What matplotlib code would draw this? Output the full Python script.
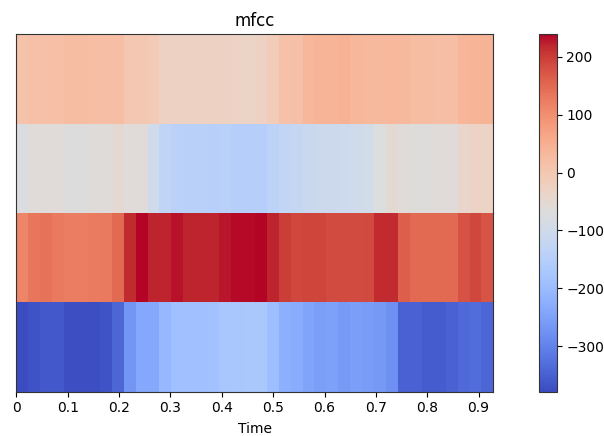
import numpy as np
import matplotlib
matplotlib.use("Agg")
import matplotlib.pyplot as plt

# MFCC values, 4 coefficients x 40 frames (row 0 = bottom)
mfcc_0 = [-379, -367, -360, -360, -376, -376, -375, -367, -342, -268,
          -237, -237, -206, -190, -190, -190, -188, -175, -172, -170,
          -169, -194, -225, -231, -246, -255, -252, -263, -255, -260,
          -265, -280, -348, -349, -357, -355, -348, -336, -333, -342]
mfcc_1 = [115, 135, 138, 130, 125, 125, 127, 130, 150, 215,
          239, 222, 220, 230, 220, 220, 222, 228, 235, 236,
          237, 220, 199, 190, 193, 193, 185, 185, 185, 188,
          215, 215, 163, 150, 150, 152, 152, 178, 190, 175]
mfcc_2 = [-75, -65, -62, -62, -68, -68, -65, -65, -52, -62,
          -62, -100, -132, -141, -145, -145, -148, -147, -150, -150,
          -150, -140, -127, -122, -112, -108, -108, -105, -100, -96,
          -72, -55, -62, -66, -66, -62, -62, -42, -30, -33]
mfcc_3 = [12, 15, 16, 18, 22, 22, 21, 20, 20, 2,
          0, -5, -25, -28, -27, -26, -27, -28, -30, -32,
          -28, -12, 14, 16, 36, 40, 40, 45, 34, 32,
          30, 32, 30, 24, 24, 20, 20, 38, 40, 42]

sr = 22050
hop_length = 512
time_ticks = [0, 0.1, 0.2, 0.3, 0.4, 0.5, 0.6, 0.7, 0.8, 0.9]
time_labels = ["0", "0.1", "0.2", "0.3", "0.4", "0.5", "0.6", "0.7", "0.8", "0.9"]
cbar_ticks = [-300, -200, -100, 0, 100, 200]

data = np.array([mfcc_0, mfcc_1, mfcc_2, mfcc_3], dtype=float)
n_coef, n_frames = data.shape
t_edges = np.arange(n_frames + 1) * hop_length / sr
y_edges = np.arange(n_coef + 1)

W, H = 604, 436
fig = plt.figure(figsize=(W / 100, H / 100), dpi=100)
ax = fig.add_axes([16.3 / W, 1 - 391.7 / H, (493.4 - 16.3) / W, (391.7 - 34.3) / H])
cax = fig.add_axes([539.3 / W, 1 - 391.7 / H, 17.4 / W, (391.7 - 34.3) / H])

mesh = ax.pcolormesh(t_edges, y_edges, data, cmap="coolwarm",
                     vmin=data.min(), vmax=data.max(), shading="flat")
ax.set_xlim(t_edges[0], t_edges[-1])
ax.set_ylim(y_edges[0], y_edges[-1])
ax.set_xticks(time_ticks)
ax.set_xticklabels(time_labels, fontsize=10)
ax.set_yticks([])
ax.set_xlabel("Time", fontsize=10, labelpad=5)
ax.set_title("mfcc", fontsize=12)
for s in ax.spines.values():
    s.set_color("#333333")

cb = fig.colorbar(mesh, cax=cax)
cb.set_ticks(cbar_ticks)
cb.ax.tick_params(labelsize=10)
cb.outline.set_edgecolor("#333333")

fig.savefig("out.png", dpi=100)
